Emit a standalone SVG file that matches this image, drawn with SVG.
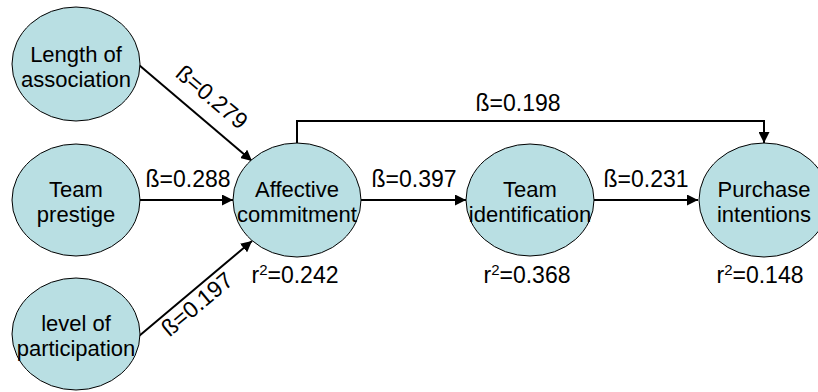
<svg xmlns="http://www.w3.org/2000/svg" width="818" height="392" viewBox="0 0 818 392">
<defs>
<style>
.node{fill:#b9dfe3;stroke:#000;stroke-width:1}
.nt{font-family:"Liberation Sans",Arial,sans-serif;font-size:22px;fill:#000;text-anchor:middle}
.lb{font-family:"Liberation Sans",Arial,sans-serif;font-size:23px;fill:#000;text-anchor:middle}
.sup{font-size:15px}
.edge{fill:none;stroke:#000;stroke-width:2}
</style>
<marker id="ah" viewBox="0 0 10 10" refX="10" refY="5" markerWidth="5.5" markerHeight="5.5" orient="auto" markerUnits="strokeWidth">
<path d="M0,0 L10,5 L0,10 z" fill="#000"/>
</marker>
</defs>
<rect width="818" height="392" fill="#fff"/>
<g id="connectors">
<line class="edge" x1="139" y1="65" x2="252" y2="161" marker-end="url(#ah)"/>
<line class="edge" x1="139" y1="200" x2="233" y2="200" marker-end="url(#ah)"/>
<line class="edge" x1="139" y1="336" x2="252" y2="241" marker-end="url(#ah)"/>
<line class="edge" x1="361" y1="200" x2="466" y2="200" marker-end="url(#ah)"/>
<line class="edge" x1="594" y1="200" x2="698" y2="200" marker-end="url(#ah)"/>
<polyline class="edge" points="297,143 297,121 764,121 764,143" marker-end="url(#ah)"/>
<text class="lb" transform="translate(212,97) rotate(40)" y="8">ß=0.279</text>
<text class="lb" x="188" y="187">ß=0.288</text>
<text class="lb" transform="translate(197,304) rotate(-40)" y="8">ß=0.197</text>
<text class="lb" x="414" y="187">ß=0.397</text>
<text class="lb" x="646" y="187">ß=0.231</text>
<text class="lb" x="518" y="111">ß=0.198</text>
</g>
<g id="n-length">
<ellipse class="node" cx="76" cy="64" rx="64" ry="57"/>
<text class="nt" x="76" y="62">Length of</text>
<text class="nt" x="76" y="87">association</text>
</g>
<g id="n-prestige">
<ellipse class="node" cx="76" cy="200" rx="64" ry="56"/>
<text class="nt" x="76" y="197">Team</text>
<text class="nt" x="76" y="222">prestige</text>
</g>
<g id="n-participation">
<ellipse class="node" cx="76" cy="334" rx="64" ry="56"/>
<text class="nt" x="76" y="331">level of</text>
<text class="nt" x="76" y="356">participation</text>
</g>
<g id="n-affective">
<ellipse class="node" cx="297" cy="200" rx="64" ry="57"/>
<text class="nt" x="297" y="197">Affective</text>
<text class="nt" x="297" y="222">commitment</text>
<text class="lb" x="295" y="283">r<tspan class="sup" dy="-8">2</tspan><tspan dy="8">=0.242</tspan></text>
</g>
<g id="n-identification">
<ellipse class="node" cx="530" cy="200" rx="64" ry="56"/>
<text class="nt" x="530" y="197">Team</text>
<text class="nt" x="530" y="222">identification</text>
<text class="lb" x="527" y="283">r<tspan class="sup" dy="-8">2</tspan><tspan dy="8">=0.368</tspan></text>
</g>
<g id="n-purchase">
<ellipse class="node" cx="764" cy="200" rx="65" ry="57"/>
<text class="nt" x="764" y="197">Purchase</text>
<text class="nt" x="764" y="222">intentions</text>
<text class="lb" x="760" y="283">r<tspan class="sup" dy="-8">2</tspan><tspan dy="8">=0.148</tspan></text>
</g>
</svg>
